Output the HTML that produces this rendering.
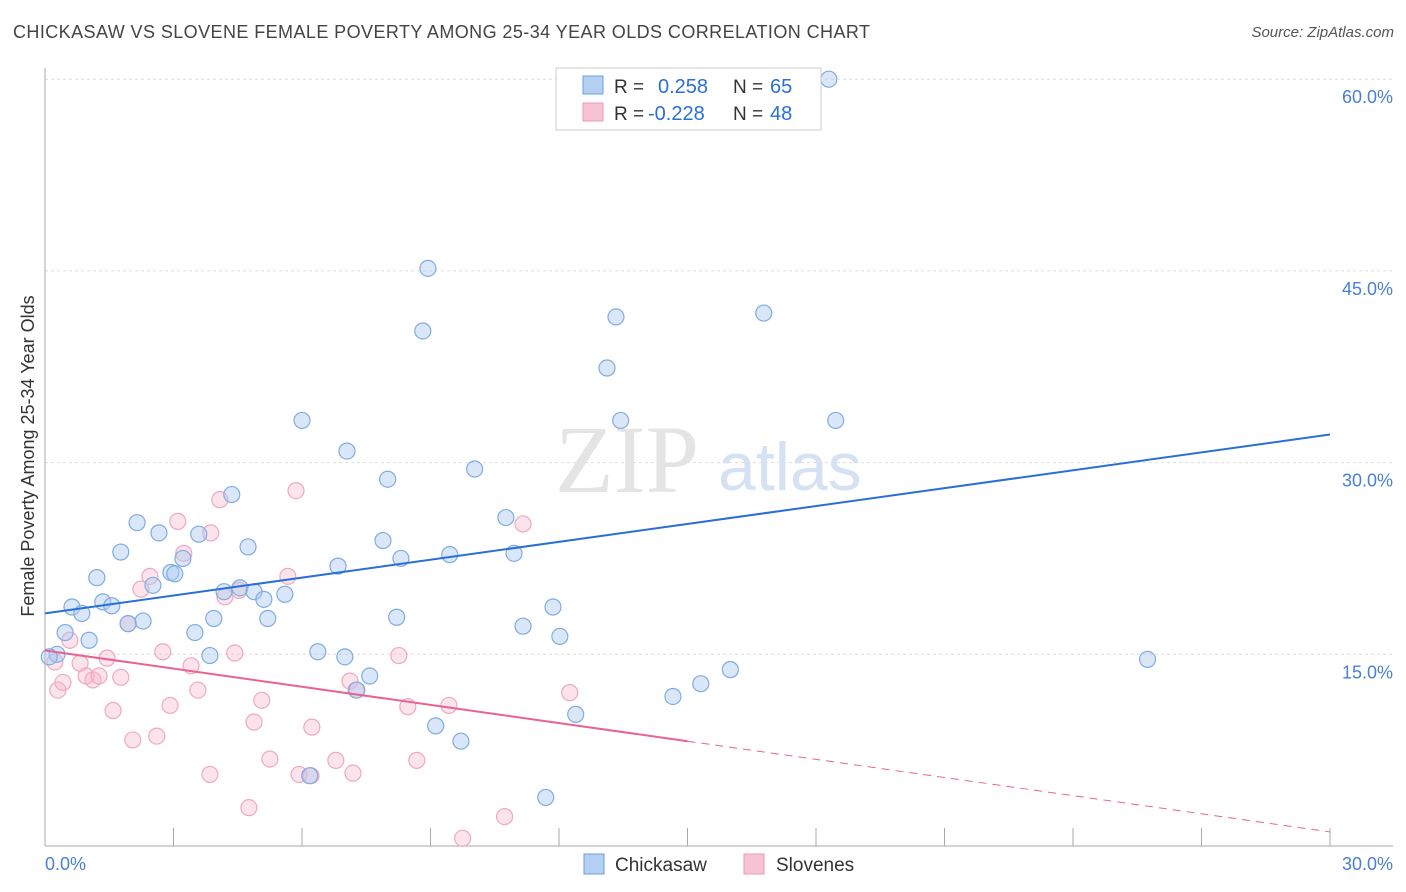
<!DOCTYPE html>
<html><head><meta charset="utf-8">
<style>
body{margin:0;background:#fff;font-family:"Liberation Sans",sans-serif;}
#wrap{position:relative;width:1406px;height:892px;overflow:hidden;}
.t{position:absolute;white-space:nowrap;}
</style></head><body>
<div id="wrap">
<div class="t" style="left:13px;top:22px;font-size:18px;color:#444;letter-spacing:0.42px">CHICKASAW VS SLOVENE FEMALE POVERTY AMONG 25-34 YEAR OLDS CORRELATION CHART</div>
<div class="t" style="right:12px;top:24px;font-size:15px;color:#555;font-style:italic">Source: ZipAtlas.com</div>
<svg id="chart" width="1406" height="892" style="position:absolute;left:0;top:0"></svg>
</div>
<script>
const blueX=[18.3,8.94,8.82,13.33,16.78,13.12,6.0,13.44,18.46,7.05,10.03,8.0,4.36,10.76,2.15,2.66,3.59,7.89,4.74,1.77,8.31,9.45,10.95,6.84,3.22,2.94,3.03,1.21,2.52,4.55,4.18,4.88,5.6,5.11,1.35,1.56,0.63,0.86,11.86,8.21,3.94,5.2,2.29,1.94,11.16,0.47,3.5,12.02,1.03,6.37,3.85,0.28,7.0,25.74,7.58,16.0,7.28,15.31,14.66,12.39,9.12,9.71,6.18,11.69,0.1];
const blueY=[60.0,45.2,40.3,41.4,41.7,37.4,33.3,33.3,33.3,30.9,29.5,28.7,27.5,25.7,25.3,24.5,24.4,23.9,23.4,23.0,22.5,22.8,22.9,21.9,22.5,21.4,21.3,21.0,20.4,20.2,19.9,19.9,19.7,19.3,19.1,18.8,18.7,18.2,18.7,17.9,17.8,17.8,17.6,17.4,17.2,16.7,16.7,16.4,16.1,15.2,14.9,15.0,14.8,14.6,13.3,13.8,12.2,12.7,11.7,10.3,9.4,8.2,5.5,3.8,14.8];
const pinkX=[0.23,0.58,0.82,0.96,1.12,0.3,0.42,1.26,1.45,1.59,1.77,1.94,2.05,2.24,2.45,2.61,2.75,2.92,3.1,3.24,3.41,3.57,3.85,3.87,4.08,4.2,4.43,4.53,4.76,4.88,5.06,5.25,5.86,5.67,5.93,6.21,6.23,6.79,7.12,7.19,7.26,8.26,8.47,8.68,9.43,9.75,10.73,11.16,12.25];
const pinkY=[14.4,16.1,14.3,13.3,13.0,12.2,12.8,13.3,14.7,10.6,13.2,17.4,8.3,20.1,21.1,8.6,15.2,11.0,25.4,22.9,14.1,12.2,5.6,24.5,27.1,19.5,15.1,20.0,3.0,9.7,11.4,6.8,27.8,21.1,5.6,5.5,9.3,6.7,12.9,5.7,12.2,14.9,10.9,6.7,11.0,0.6,2.3,25.2,12.0];
const blueLine=[18.2,32.2];
const pinkLine=[15.3,1.1];
const yTicks=[15,30,45,60];
const xTickVals=[0,3,6,9,12,15,18,21,24,27,30];

const NS='http://www.w3.org/2000/svg';
const svg=document.getElementById('chart');
const X0=45,X1=1330,Y0=846,PY=12.78;
const sx=v=>X0+(v/30)*(X1-X0);
const sy=v=>Y0-v*PY;
function mk(tag,attrs,parent){const e=document.createElementNS(NS,tag);for(const k in attrs)e.setAttribute(k,attrs[k]);(parent||svg).appendChild(e);return e;}

yTicks.forEach(v=>{
  const g=mk('line',{x1:X0,x2:1393,y1:sy(v),y2:sy(v),stroke:'#ddd','stroke-dasharray':'3,3'});
  
  
  const t=mk('text',{x:1393,y:sy(v)+24,'text-anchor':'end','font-size':18,fill:'#4a7fd4','font-family':'Liberation Sans'});
  t.textContent=v.toFixed(1)+'%';
  
  
});
const ax=mk('line',{x1:X0,x2:X0,y1:68,y2:Y0,stroke:'#aaa'});


const bx=mk('line',{x1:X0,x2:1393,y1:Y0,y2:Y0,stroke:'#aaa'});


xTickVals.forEach(v=>{
  const l=mk('line',{x1:sx(v),x2:sx(v),y1:828,y2:Y0,stroke:'#aaa'});
  
  
});
[[0,'0.0%','start',45],[30,'30.0%','end',1393]].forEach(a=>{
  const t=mk('text',{x:a[3],y:870,'text-anchor':a[2],'font-size':18,fill:'#4a7fd4','font-family':'Liberation Sans'});
  t.textContent=a[1];
  
  
});
const yl=mk('text',{x:0,y:0,transform:'translate(34,456) rotate(-90)','text-anchor':'middle','font-size':18,fill:'#333','font-family':'Liberation Sans'});
yl.textContent='Female Poverty Among 25-34 Year Olds';



const w1=mk('text',{x:555,y:492,'font-size':96,fill:'#e4e4e4','font-family':'Liberation Serif'});
w1.textContent='ZIP';


const w2=mk('text',{x:718,y:490,'font-size':68,fill:'#d6e2f4','font-family':'Liberation Sans'});
w2.textContent='atlas';



pinkX.forEach((v,i)=>{
  const c=mk('circle',{cx:sx(v),cy:sy(pinkY[i]),r:8,fill:'rgba(246,182,204,0.38)',stroke:'#f0a8c0','stroke-width':1.2});
  
  
});
blueX.forEach((v,i)=>{
  const c=mk('circle',{cx:sx(v),cy:sy(blueY[i]),r:8,fill:'rgba(170,202,242,0.45)',stroke:'#80ace2','stroke-width':1.2});
  
  
});
const bl=mk('line',{x1:sx(0),y1:sy(blueLine[0]),x2:sx(30),y2:sy(blueLine[1]),stroke:'#2a6fd6','stroke-width':2});


const pm=(pinkLine[0]+pinkLine[1])/2;
const pl=mk('line',{x1:sx(0),y1:sy(pinkLine[0]),x2:sx(15),y2:sy(pm),stroke:'#e8648e','stroke-width':2});


const pd=mk('line',{x1:sx(15),y1:sy(pm),x2:sx(30),y2:sy(pinkLine[1]),stroke:'#e8648e','stroke-width':1,'stroke-dasharray':'8,6'});



const lg=mk('g',{});


mk('rect',{x:556,y:68,width:265,height:62,fill:'#fff',stroke:'#ccc'},lg);
mk('rect',{x:583,y:76,width:20,height:18,fill:'#b3cff2',stroke:'#6d9fdc'},lg);
mk('rect',{x:583,y:103,width:20,height:18,fill:'#f7c3d4',stroke:'#eb9ab6'},lg);
[['R =','0.258','N =','65',93,658],['R =','-0.228','N =','48',120,648]].forEach(r=>{
  const a=mk('text',{x:614,y:r[4],'font-size':19,fill:'#333','font-family':'Liberation Sans'},lg);a.textContent=r[0];
  const b=mk('text',{x:r[5],y:r[4],'font-size':20,fill:'#2a6fd6','font-family':'Liberation Sans'},lg);b.textContent=r[1];
  const c=mk('text',{x:733,y:r[4],'font-size':19,fill:'#333','font-family':'Liberation Sans'},lg);c.textContent=r[2];
  const d=mk('text',{x:770,y:r[4],'font-size':20,fill:'#2a6fd6','font-family':'Liberation Sans'},lg);d.textContent=r[3];
});
const bg=mk('g',{});


mk('rect',{x:584,y:854,width:20,height:20,fill:'#b3cff2',stroke:'#6d9fdc'},bg);
const t1=mk('text',{x:615,y:871,'font-size':19,fill:'#333','font-family':'Liberation Sans'},bg);t1.textContent='Chickasaw';
mk('rect',{x:744,y:854,width:20,height:20,fill:'#f7c3d4',stroke:'#eb9ab6'},bg);
const t2=mk('text',{x:776,y:871,'font-size':19,fill:'#333','font-family':'Liberation Sans'},bg);t2.textContent='Slovenes';
</script>
</body></html>
